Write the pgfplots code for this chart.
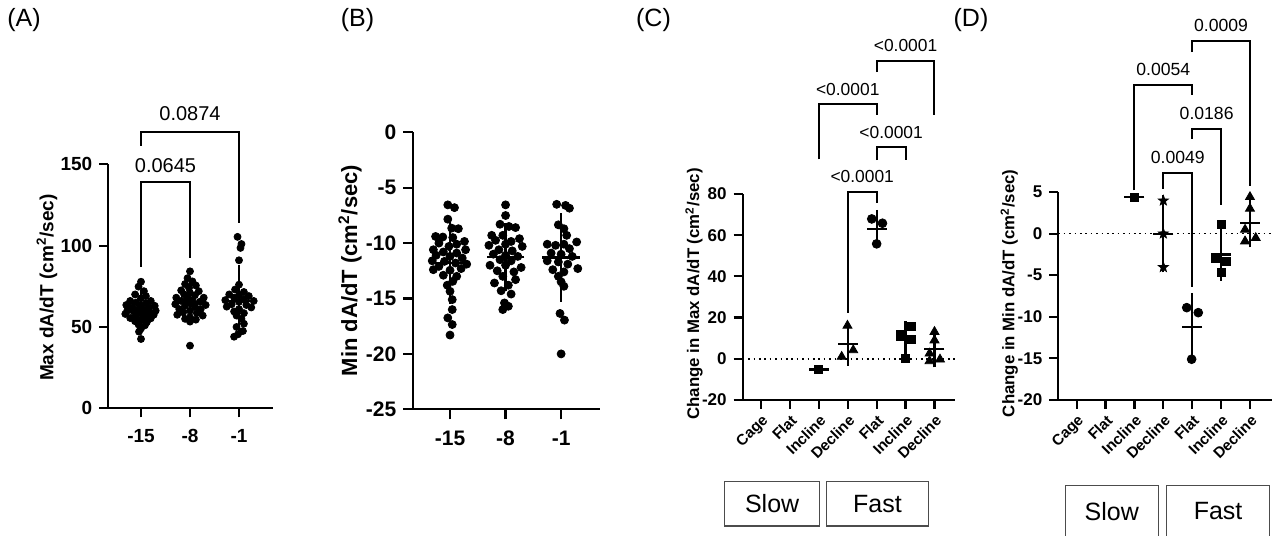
\documentclass[border=0pt]{standalone}
\usepackage{fontspec}
\setmainfont{Liberation Sans}
\usepackage{pgfplots}
\pgfplotsset{compat=1.18}
\usetikzlibrary{plotmarks}
\pgfdeclareplotmark{fstar}{%
  \pgfpathmoveto{\pgfpointpolar{90}{\pgfplotmarksize}}%
  \pgfpathlineto{\pgfpointpolar{126}{0.42\pgfplotmarksize}}%
  \pgfpathlineto{\pgfpointpolar{162}{\pgfplotmarksize}}%
  \pgfpathlineto{\pgfpointpolar{198}{0.42\pgfplotmarksize}}%
  \pgfpathlineto{\pgfpointpolar{234}{\pgfplotmarksize}}%
  \pgfpathlineto{\pgfpointpolar{270}{0.42\pgfplotmarksize}}%
  \pgfpathlineto{\pgfpointpolar{306}{\pgfplotmarksize}}%
  \pgfpathlineto{\pgfpointpolar{342}{0.42\pgfplotmarksize}}%
  \pgfpathlineto{\pgfpointpolar{18}{\pgfplotmarksize}}%
  \pgfpathlineto{\pgfpointpolar{54}{0.42\pgfplotmarksize}}%
  \pgfpathclose
  \pgfusepathqfillstroke}
\newcommand\fs[1]{\fontsize{#1}{#1}\selectfont}
\pgfplotsset{
  gp/.style={
    scale only axis, anchor=south west, clip=false,
    axis x line*=bottom, axis y line*=left,
    axis line style={line width=1.1pt, black},
    tick align=outside, major tick length=4.5pt,
    major tick style={line width=1.1pt, black},
    minor tick num=0,
  },
  msd/.style n args={2}{only marks, mark=-, mark size=#1, mark options={line width=1.1pt, black},
    error bars/.cd, y dir=both, y explicit,
    error bar style={line width=1.1pt, black},
    error mark options={mark size=#2, line width=1.1pt, black}},
  br/.style={black, line width=1pt, mark=none},
}
\begin{document}
\begin{tikzpicture}
\path[use as bounding box] (0,0) rectangle (639pt,267.5pt);
% panel letters
\node at (12pt,257.5pt) {\fs{12.5}(A)};
\node at (178.75pt,257.5pt) {\fs{12.5}(B)};
\node at (326.75pt,257.25pt) {\fs{12.5}(C)};
\node at (485.5pt,257.5pt) {\fs{12.5}(D)};

% ---------------- Panel A ----------------
\begin{axis}[gp, at={(54.15pt,63.35pt)}, width=82.5pt, height=122pt,
  xmin=-0.667, xmax=2.70, ymin=0, ymax=150,
  xtick={0,1,2}, xticklabels={-15,-8,-1},
  ytick={0,50,100,150}, yticklabels={0,50,100,150},
  ticklabel style={font=\fs{9.5}\bfseries},
  xticklabel style={yshift=-2pt, text height=7pt, text depth=0pt},
  ylabel={Max dA/dT (cm\textsuperscript{2}/sec)},
  ylabel style={at={(axis description cs:-0.372,0.495)}, anchor=center, font=\fs{9.5}\bfseries}]
\addplot[only marks, mark=*, mark size=1.75pt, black] coordinates {
(0.00,77.8) (-0.05,74.8) (0.06,72) (-0.12,70) (0.1,69) (0.0,67.6) (-0.22,66) (0.2,66) (-0.1,65) (0.1,64.5) (-0.3,63.5) (0.0,63.2) (0.28,63) (-0.18,62) (0.16,62) (-0.06,61) (0.06,60.5) (-0.28,60) (0.3,60) (-0.15,59.4) (0.15,59) (0.0,58.5) (-0.32,58) (0.26,57.5) (-0.1,57) (0.1,56.5) (-0.22,55.5) (0.2,55.3) (0.0,54.5) (-0.12,53.5) (0.12,53) (-0.05,51.5) (0.08,51) (0.0,49) (-0.04,47.1) (0.0,42.6)
};
\addplot[only marks, mark=*, mark size=1.75pt, black] coordinates {
(1.0,84.2) (0.95,80) (1.05,78) (0.9,76.4) (1.12,75.5) (0.98,74) (0.82,72.5) (1.18,72) (1.0,71) (0.88,70) (1.1,69.5) (0.72,68) (1.28,68) (0.95,67.5) (1.05,66.5) (0.82,66) (1.2,65.5) (1.0,65) (0.7,64) (1.32,63.5) (0.9,63) (1.1,62.5) (0.78,61) (1.22,61) (1.0,60) (0.86,59) (1.14,58.5) (0.74,57.5) (1.26,57) (1.0,56) (0.9,55) (1.12,54.5) (1.0,53.3) (1.0,38.5)
};
\addplot[only marks, mark=*, mark size=1.75pt, black] coordinates {
(1.97,105.4) (2.05,101) (2.03,98.6) (2.0,91) (2.0,76) (1.92,73) (2.1,71.5) (1.8,70) (2.0,69.5) (2.2,69) (1.9,68) (2.1,67) (1.72,66.5) (2.3,66) (2.0,65.5) (1.85,64) (2.15,63.5) (1.75,62.5) (2.25,62) (2.0,61) (1.9,59.5) (2.1,58.5) (1.95,57) (2.05,55) (2.1,52) (1.95,50) (2.08,47.5) (1.98,45.5) (1.9,44)
};
\addplot[msd={7.35pt}{4.2pt}] coordinates {(0,60) +- (0,7.5) (1,65) +- (0,8.5) (2,66) +- (0,17)};
\addplot[br] coordinates {(0,87) (0,138.9) (1,138.9) (1,92.6)};
\addplot[br] coordinates {(0,161.4) (0,170) (2,170) (2,114)};
\node at (axis cs:0.5,149.1) {\fs{10}0.0645};
\node at (axis cs:1,181.3) {\fs{10}0.0874};
\end{axis}

% ---------------- Panel B ----------------
\begin{axis}[gp, at={(206.65pt,62.85pt)}, width=93.35pt, height=138.5pt,
  xmin=-0.661, xmax=2.70, ymin=-25, ymax=0,
  xtick={0,1,2}, xticklabels={-15,-8,-1},
  ytick={-25,-20,-15,-10,-5,0}, yticklabels={-25,-20,-15,-10,-5,0},
  major tick length=5pt,
  ticklabel style={font=\fs{10.5}\bfseries},
  xticklabel style={yshift=-2pt, text height=7.6pt, text depth=0pt},
  ylabel={Min dA/dT (cm\textsuperscript{2}/sec)},
  ylabel style={at={(axis description cs:-0.339,0.501)}, anchor=center, font=\fs{11}\bfseries}]
\addplot[only marks, mark=*, mark size=2pt, black] coordinates {
(-0.04,-6.55) (0.08,-6.8) (-0.04,-7.84) (0.03,-8.65) (0.15,-8.7) (-0.26,-9.4) (-0.13,-9.45) (0.05,-9.5) (0.26,-9.85) (-0.2,-10.0) (0.12,-10.1) (-0.02,-10.3) (-0.3,-10.6) (0.28,-10.6) (-0.12,-10.8) (0.12,-10.9) (-0.25,-11.1) (0.0,-11.2) (0.22,-11.35) (-0.32,-11.6) (-0.1,-11.65) (0.1,-11.8) (0.3,-11.9) (-0.2,-12.1) (0.2,-12.3) (-0.3,-12.4) (0.0,-12.45) (-0.12,-12.9) (0.12,-13.0) (0.05,-13.45) (-0.05,-13.8) (0.0,-14.35) (0.04,-15.1) (0.04,-16.0) (-0.04,-16.75) (0.04,-17.35) (0.0,-18.3)
};
\addplot[only marks, mark=*, mark size=2pt, black] coordinates {
(1.0,-6.55) (1.0,-7.51) (0.9,-8.3) (1.06,-8.5) (1.18,-8.6) (0.75,-9.3) (0.95,-9.3) (1.25,-9.6) (0.82,-9.75) (1.1,-9.85) (0.7,-10.2) (1.0,-10.1) (1.3,-10.3) (0.88,-10.6) (1.12,-10.7) (0.78,-11.0) (1.0,-11.1) (1.22,-11.2) (0.9,-11.5) (1.1,-11.6) (0.72,-12.0) (1.0,-12.0) (1.28,-12.2) (0.85,-12.5) (1.15,-12.6) (0.95,-13.0) (1.18,-13.3) (0.8,-13.6) (1.05,-13.8) (0.92,-14.3) (1.1,-14.6) (0.98,-15.4) (1.05,-15.7) (0.95,-16.0)
};
\addplot[only marks, mark=*, mark size=2pt, black] coordinates {
(1.92,-6.5) (2.08,-6.6) (2.15,-6.85) (1.95,-8.35) (2.05,-8.7) (2.1,-9.3) (1.75,-10.1) (1.9,-10.2) (2.05,-10.1) (2.28,-9.9) (2.15,-10.5) (1.82,-10.9) (2.0,-11.0) (2.2,-11.2) (1.75,-11.6) (1.95,-11.7) (2.12,-11.9) (2.3,-12.3) (1.85,-12.4) (2.05,-12.6) (1.95,-13.0) (2.0,-13.5) (2.05,-13.9) (1.98,-16.35) (2.06,-16.95) (2.0,-20.0)
};
\addplot[msd={9.4pt}{4.7pt}] coordinates {(0,-11.8) +- (0,2.85) (1,-11.25) +- (0,2.2) (2,-11.3) +- (0,3.15)};
\end{axis}

% ---------------- Panel C ----------------
\begin{axis}[gp, at={(371.35pt,67.5pt)}, width=106.15pt, height=103pt,
  xmin=-0.633, xmax=6.71, ymin=-20, ymax=80,
  xtick={0,1,2,3,4,5,6}, xticklabels={Cage,Flat,Incline,Decline,Flat,Incline,Decline},
  ytick={-20,0,20,40,60,80}, yticklabels={-20,0,20,40,60,80},
  yticklabel style={font=\fs{8.5}\bfseries},
  xticklabel style={font=\fs{7.6}\bfseries, rotate=45, anchor=north east, inner sep=1.5pt},
  ylabel={Change in Max dA/dT (cm\textsuperscript{2}/sec)},
  ylabel style={at={(axis description cs:-0.229,0.515)}, anchor=center, font=\fs{8.4}\bfseries}]
\addplot[black, line width=0.8pt, dash pattern=on 0.8pt off 1.9pt] coordinates {(-0.633,0) (6.71,0)};
\addplot[only marks, mark=square*, mark size=2pt, black] coordinates {(2,-5.2)};
\addplot[only marks, mark=triangle*, mark size=2.6pt, black] coordinates {(2.99,16.1) (3.19,4.2) (2.79,1.0)};
\addplot[only marks, mark=*, mark size=2.2pt, black] coordinates {(3.83,67.9) (4.2,65.8) (4.0,55.8)};
\addplot[only marks, mark=square*, mark size=2pt, black] coordinates {(5.19,15.5) (4.81,11.8) (5.19,9.4) (4.98,0.2)};
\addplot[only marks, mark=triangle*, mark size=2.6pt, black] coordinates {(6.0,13.1) (6.0,9.0) (5.83,2.6) (5.83,-1.1) (6.19,-0.3)};
\addplot[msd={5pt}{2.7pt}] coordinates {(3,7.1) +- (0,7.96) (4,63.2) +- (0,6.5) (5,9.2) +- (0,6.5) (6,4.66) +- (0,6.2)};
\addplot[only marks, mark=-, mark size=5pt, mark options={line width=1.1pt, black}] coordinates {(2,-5.2)};
\addplot[br] coordinates {(3,22.3) (3,81.1) (4,81.1) (4,75.5)};
\addplot[br] coordinates {(4,96.5) (4,102.6) (5,102.6) (5,96.5)};
\addplot[br] coordinates {(2,96.8) (2,123.5) (4,123.5) (4,118.2)};
\addplot[br] coordinates {(4,139.2) (4,144.8) (6,144.8) (6,118.2)};
\node at (axis cs:3.5,88.4) {\fs{8.7}<0.0001};
\node at (axis cs:4.5,109.7) {\fs{8.7}<0.0001};
\node at (axis cs:3.0,130.8) {\fs{8.7}<0.0001};
\node at (axis cs:5.0,152.1) {\fs{8.7}<0.0001};
\draw[black!70, line width=0.6pt] (axis cs:-1.25,-59.5) rectangle (axis cs:2.02,-81.2);
\draw[black!70, line width=0.6pt] (axis cs:2.27,-59.5) rectangle (axis cs:5.79,-81.2);
\node at (axis cs:0.385,-70.4) {\fs{12.5}Slow};
\node at (axis cs:4.03,-70.4) {\fs{12.5}Fast};
\end{axis}

% ---------------- Panel D ----------------
\begin{axis}[gp, at={(529.15pt,67.5pt)}, width=106.65pt, height=104pt,
  xmin=-0.637, xmax=6.75, ymin=-20, ymax=5,
  xtick={0,1,2,3,4,5,6}, xticklabels={Cage,Flat,Incline,Decline,Flat,Incline,Decline},
  ytick={-20,-15,-10,-5,0,5}, yticklabels={-20,-15,-10,-5,0,5},
  yticklabel style={font=\fs{8.5}\bfseries},
  xticklabel style={font=\fs{7.6}\bfseries, rotate=45, anchor=north east, inner sep=1.5pt},
  ylabel={Change in Min dA/dT (cm\textsuperscript{2}/sec)},
  ylabel style={at={(axis description cs:-0.23,0.513)}, anchor=center, font=\fs{8.4}\bfseries}]
\addplot[black, line width=0.8pt, dash pattern=on 0.8pt off 1.9pt] coordinates {(-0.637,0) (6.75,0)};
\addplot[only marks, mark=square*, mark size=2pt, black] coordinates {(2,4.4)};
\addplot[only marks, mark=fstar, mark size=2.6pt, black] coordinates {(3,3.96) (3,0.0) (3,-4.04)};
\addplot[only marks, mark=*, mark size=2.2pt, black] coordinates {(3.81,-8.9) (4.21,-9.5) (3.98,-15.1)};
\addplot[only marks, mark=square*, mark size=2pt, black] coordinates {(5.0,1.08) (4.8,-3.04) (5.19,-3.32) (5.0,-4.72)};
\addplot[only marks, mark=triangle*, mark size=2.6pt, black] coordinates {(6.0,4.4) (6.0,3.0) (5.83,0.48) (5.83,-0.92) (6.2,-0.52)};
\addplot[msd={5pt}{2.7pt}] coordinates {(3,0) +- (0,4.0) (4,-11.2) +- (0,3.42) (5,-2.5) +- (0,2.5) (6,1.29) +- (0,2.31)};
\addplot[only marks, mark=-, mark size=5pt, mark options={line width=1.1pt, black}] coordinates {(2,4.4)};
\addplot[br] coordinates {(3,5.4) (3,7.28) (4,7.28) (4,-6.4)};
\addplot[br] coordinates {(4,11.4) (4,12.6) (5,12.6) (5,3.4)};
\addplot[br] coordinates {(2,5.2) (2,17.9) (4,17.9) (4,16.6)};
\addplot[br] coordinates {(4,21.8) (4,23.2) (6,23.2) (6,5.7)};
\node at (axis cs:3.5,9.2) {\fs{8.8}0.0049};
\node at (axis cs:4.5,14.5) {\fs{8.8}0.0186};
\node at (axis cs:3.0,19.7) {\fs{8.8}0.0054};
\node at (axis cs:5.0,25.0) {\fs{8.8}0.0009};
\draw[black!70, line width=0.6pt] (axis cs:-0.40,-30.3) rectangle (axis cs:2.83,-37);
\draw[black!70, line width=0.6pt] (axis cs:3.12,-30.3) rectangle (axis cs:6.67,-37);
\node at (axis cs:1.215,-33.4) {\fs{12.5}Slow};
\node at (axis cs:4.895,-33.4) {\fs{12.5}Fast};
\end{axis}
\end{tikzpicture}
\end{document}
